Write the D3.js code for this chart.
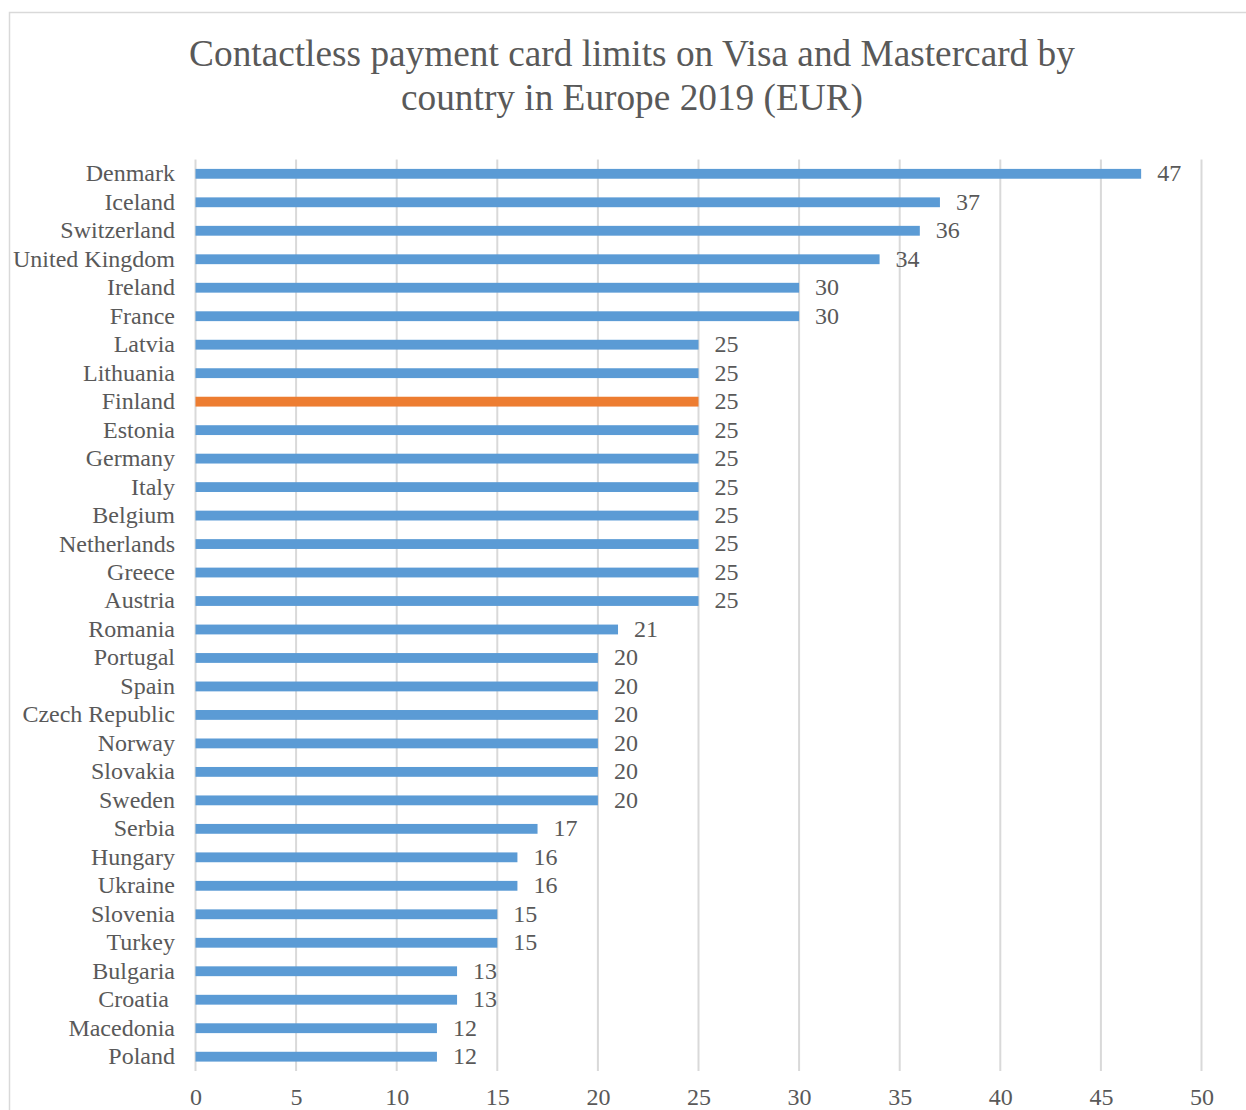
<!DOCTYPE html>
<html>
<head>
<meta charset="utf-8">
<script src="https://cdn.jsdelivr.net/npm/d3@7"></script>
<style>
  body { margin: 0; background: #fff; }
  text { font-family: "Liberation Serif", "Times New Roman", serif; fill: #595959; }
</style>
</head>
<body>
<svg id="chart" width="1246" height="1110"></svg>
<script>
// data
const countries = ['Denmark', 'Iceland', 'Switzerland', 'United Kingdom', 'Ireland', 'France', 'Latvia',
  'Lithuania', 'Finland', 'Estonia', 'Germany', 'Italy', 'Belgium', 'Netherlands', 'Greece', 'Austria',
  'Romania', 'Portugal', 'Spain', 'Czech Republic', 'Norway', 'Slovakia', 'Sweden', 'Serbia', 'Hungary',
  'Ukraine', 'Slovenia', 'Turkey', 'Bulgaria', 'Croatia ', 'Macedonia', 'Poland'];
const limits = [47, 37, 36, 34, 30, 30, 25, 25, 25, 25, 25, 25, 25, 25, 25, 25,
  21, 20, 20, 20, 20, 20, 20, 17, 16, 16, 15, 15, 13, 13, 12, 12];
const highlighted = ['Finland'];
const xTicks = [0, 5, 10, 15, 20, 25, 30, 35, 40, 45, 50];
const titleLines = ['Contactless payment card limits on Visa and Mastercard by', 'country in Europe 2019 (EUR)'];

const data = countries.map((c, i) => ({ name: c, value: limits[i] }));

const svg = d3.select('#chart');
const margin = { top: 159.5, left: 195.5, right: 44.5, bottom: 39 };
const width = 1246, height = 1110;

// chart frame
svg.append('rect')
  .attr('x', 9.5).attr('y', 12.5)
  .attr('width', 1246).attr('height', 1110)
  .attr('fill', 'none').attr('stroke', '#d9d9d9').attr('stroke-width', 1.5);

const x = d3.scaleLinear().domain([0, 50]).range([margin.left, width - margin.right]);
const y = d3.scaleBand().domain(countries).range([margin.top, height - margin.bottom]).paddingInner(0.655).paddingOuter(0.33);

// grid
svg.append('g').selectAll('line').data(xTicks).enter().append('line')
  .attr('x1', d => x(d)).attr('x2', d => x(d))
  .attr('y1', margin.top).attr('y2', height - margin.bottom)
  .attr('stroke', '#d9d9d9').attr('stroke-width', 2);

// x axis labels
const xAxis = d3.axisBottom(x).tickValues(xTicks).tickSize(0).tickPadding(0);
const gx = svg.append('g').attr('transform', 'translate(0,1087)').call(xAxis);
gx.select('.domain').remove();
gx.selectAll('text').attr('font-size', 24).attr('dy', '0.75em')
  .style('font-family', '"Liberation Serif", "Times New Roman", serif').attr('fill', '#595959');

// y axis labels
const yAxis = d3.axisLeft(y).tickSize(0).tickPadding(0);
const gy = svg.append('g').attr('transform', 'translate(175,0)').call(yAxis);
gy.select('.domain').remove();
gy.selectAll('text').attr('font-size', 24).attr('dy', '0.31em').style('white-space', 'pre')
  .style('font-family', '"Liberation Serif", "Times New Roman", serif').attr('fill', '#595959');

// bars
svg.append('g').selectAll('rect').data(data).enter().append('rect')
  .attr('x', x(0))
  .attr('y', d => y(d.name))
  .attr('width', d => x(d.value) - x(0))
  .attr('height', y.bandwidth())
  .attr('fill', d => highlighted.includes(d.name) ? '#ed7d31' : '#5b9bd5');

// value labels
svg.append('g').selectAll('text').data(data).enter().append('text')
  .attr('x', d => x(d.value) + 16)
  .attr('y', d => y(d.name) + y.bandwidth() / 2)
  .attr('dy', '0.31em')
  .attr('font-size', 24)
  .text(d => d.value);

// title
svg.append('g').selectAll('text').data(titleLines).enter().append('text')
  .attr('x', 632).attr('y', (d, i) => 66 + i * 44)
  .attr('text-anchor', 'middle')
  .attr('font-size', 37.3)
  .text(d => d);
</script>
</body>
</html>
